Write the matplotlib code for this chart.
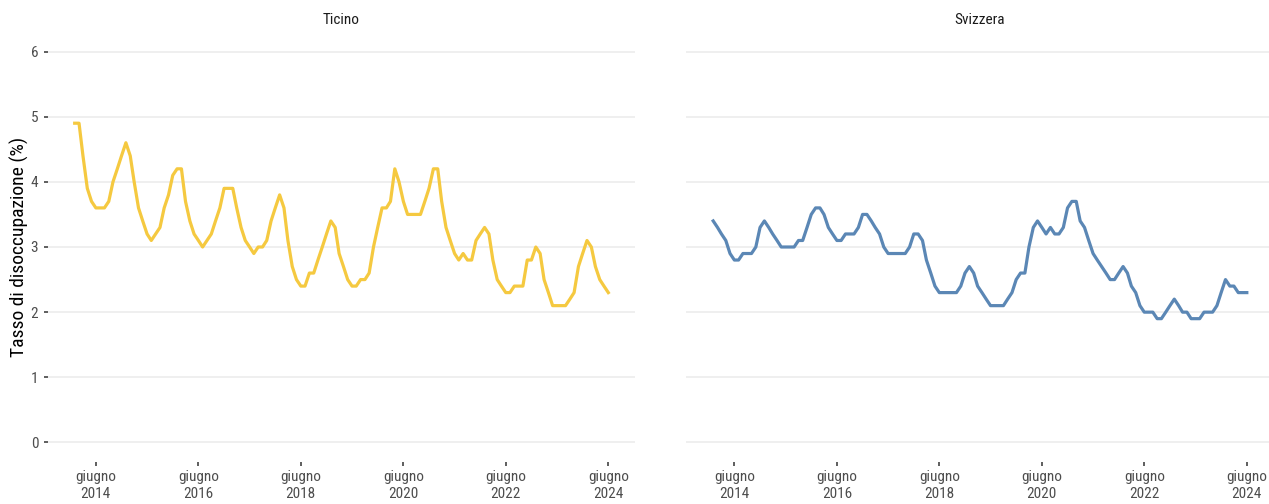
import matplotlib
matplotlib.use("Agg")
import matplotlib.pyplot as plt
import matplotlib.dates as mdates
import pandas as pd

plt.rcParams['font.family'] = ['Roboto Condensed', 'Liberation Sans Narrow', 'Roboto', 'DejaVu Sans']

# monthly data, January 2014 - June 2024
months = pd.date_range("2014-01-01", "2024-06-01", freq="MS")

ticino = [
    4.9, 4.9, 4.4, 3.9, 3.7, 3.6, 3.6, 3.6, 3.7, 4.0, 4.2, 4.4,
    4.6, 4.4, 4.0, 3.6, 3.4, 3.2, 3.1, 3.2, 3.3, 3.6, 3.8, 4.1,
    4.2, 4.2, 3.7, 3.4, 3.2, 3.1, 3.0, 3.1, 3.2, 3.4, 3.6, 3.9,
    3.9, 3.9, 3.6, 3.3, 3.1, 3.0, 2.9, 3.0, 3.0, 3.1, 3.4, 3.6,
    3.8, 3.6, 3.1, 2.7, 2.5, 2.4, 2.4, 2.6, 2.6, 2.8, 3.0, 3.2,
    3.4, 3.3, 2.9, 2.7, 2.5, 2.4, 2.4, 2.5, 2.5, 2.6, 3.0, 3.3,
    3.6, 3.6, 3.7, 4.2, 4.0, 3.7, 3.5, 3.5, 3.5, 3.5, 3.7, 3.9,
    4.2, 4.2, 3.7, 3.3, 3.1, 2.9, 2.8, 2.9, 2.8, 2.8, 3.1, 3.2,
    3.3, 3.2, 2.8, 2.5, 2.4, 2.3, 2.3, 2.4, 2.4, 2.4, 2.8, 2.8,
    3.0, 2.9, 2.5, 2.3, 2.1, 2.1, 2.1, 2.1, 2.2, 2.3, 2.7, 2.9,
    3.1, 3.0, 2.7, 2.5, 2.4, 2.3,
]

svizzera = [
    3.4, 3.3, 3.2, 3.1, 2.9, 2.8, 2.8, 2.9, 2.9, 2.9, 3.0, 3.3,
    3.4, 3.3, 3.2, 3.1, 3.0, 3.0, 3.0, 3.0, 3.1, 3.1, 3.3, 3.5,
    3.6, 3.6, 3.5, 3.3, 3.2, 3.1, 3.1, 3.2, 3.2, 3.2, 3.3, 3.5,
    3.5, 3.4, 3.3, 3.2, 3.0, 2.9, 2.9, 2.9, 2.9, 2.9, 3.0, 3.2,
    3.2, 3.1, 2.8, 2.6, 2.4, 2.3, 2.3, 2.3, 2.3, 2.3, 2.4, 2.6,
    2.7, 2.6, 2.4, 2.3, 2.2, 2.1, 2.1, 2.1, 2.1, 2.2, 2.3, 2.5,
    2.6, 2.6, 3.0, 3.3, 3.4, 3.3, 3.2, 3.3, 3.2, 3.2, 3.3, 3.6,
    3.7, 3.7, 3.4, 3.3, 3.1, 2.9, 2.8, 2.7, 2.6, 2.5, 2.5, 2.6,
    2.7, 2.6, 2.4, 2.3, 2.1, 2.0, 2.0, 2.0, 1.9, 1.9, 2.0, 2.1,
    2.2, 2.1, 2.0, 2.0, 1.9, 1.9, 1.9, 2.0, 2.0, 2.0, 2.1, 2.3,
    2.5, 2.4, 2.4, 2.3, 2.3, 2.3,
]

panels = ["Ticino", "Svizzera"]
colors = ["#F5C940", "#5B87B5"]
tick_dates = pd.to_datetime(["2014-06-01", "2016-06-01", "2018-06-01",
                             "2020-06-01", "2022-06-01", "2024-06-01"])
tick_labels = [f"giugno\n{d.year}" for d in tick_dates]
y_ticks = [0, 1, 2, 3, 4, 5, 6]

W, H = 1269, 504
fig = plt.figure(figsize=(W / 100, H / 100), dpi=100)
fig.patch.set_facecolor("white")

# panel boxes in pixels: left, top, width, height
boxes = [(48, 32, 587, 430), (686.5, 32, 587, 430)]

x0 = mdates.date2num(months[0])
x1 = mdates.date2num(months[-1])
pad = (x1 - x0) * 0.05

for i, (name, series, col) in enumerate(zip(panels, [ticino, svizzera], colors)):
    l, t, w, h = boxes[i]
    ax = fig.add_axes([l / W, (H - t - h) / H, w / W, h / H])
    ax.set_facecolor("white")
    ax.plot(months, series, color=col, linewidth=2.3, solid_joinstyle="round")
    ax.set_xlim(x0 - pad, x1 + pad)
    ax.set_ylim(-0.3, 6.3)
    ax.set_yticks(y_ticks)
    ax.grid(axis="y", color="#EBEBEB", linewidth=1.1)
    ax.grid(axis="x", visible=False)
    ax.set_axisbelow(True)
    for s in ax.spines.values():
        s.set_visible(False)
    ax.set_xticks(tick_dates)
    ax.set_xticklabels(tick_labels, fontsize=11, color="#4D4D4D", linespacing=1.2)
    ax.tick_params(axis="x", length=3, width=1.1, color="#333333", pad=3)
    if i == 0:
        ax.set_yticklabels([str(v) for v in y_ticks], fontsize=11, color="#4D4D4D")
        ax.tick_params(axis="y", length=3, width=1.1, color="#333333", pad=4)
        ax.set_ylabel("Tasso di disoccupazione (%)", fontsize=14, color="black")
        ax.yaxis.set_label_coords(-0.032, 0.5)
    else:
        ax.tick_params(axis="y", length=0, labelleft=False)
    ax.set_title(name, fontsize=11, color="#1A1A1A", pad=6)

fig.savefig("out.png", dpi=100, facecolor="white")
